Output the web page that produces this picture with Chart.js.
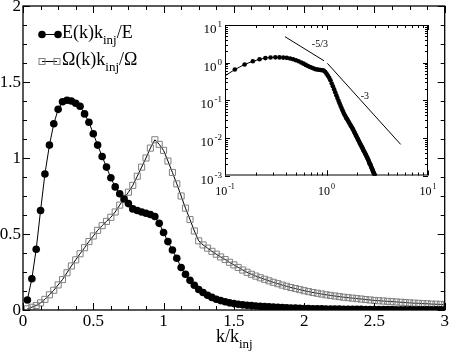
<!DOCTYPE html>
<html>
<head>
<meta charset="utf-8">
<script src="https://cdn.jsdelivr.net/npm/chart.js@4.4.1/dist/chart.umd.min.js"></script>
<style>
  html, body { margin: 0; padding: 0; background: #fff; }
  #wrap { position: relative; width: 450px; height: 352px; }
  #main { position: absolute; left: 0; top: 0; }
  #inset { position: absolute; left: 180px; top: 15px; }
</style>
</head>
<body>
<div id="wrap">
  <canvas id="main" width="450" height="352"></canvas>
  <canvas id="inset" width="262" height="190"></canvas>
</div>
<script>
// k / k_inj
const kValues = [
  0.031, 0.063, 0.094, 0.125, 0.156, 0.188, 0.219, 0.25, 0.281, 0.313, 0.344, 0.375, 0.406, 0.438, 0.469, 0.5,
  0.531, 0.563, 0.594, 0.625, 0.656, 0.688, 0.719, 0.75, 0.781, 0.813, 0.844, 0.875, 0.906, 0.938, 0.969, 1.0,
  1.031, 1.063, 1.094, 1.125, 1.156, 1.188, 1.219, 1.25, 1.281, 1.313, 1.344, 1.375, 1.406, 1.438, 1.469, 1.5,
  1.531, 1.563, 1.594, 1.625, 1.656, 1.688, 1.719, 1.75, 1.781, 1.813, 1.844, 1.875, 1.906, 1.938, 1.969, 2.0,
  2.031, 2.063, 2.094, 2.125, 2.156, 2.188, 2.219, 2.25, 2.281, 2.313, 2.344, 2.375, 2.406, 2.438, 2.469, 2.5,
  2.531, 2.563, 2.594, 2.625, 2.656, 2.688, 2.719, 2.75, 2.781, 2.813, 2.844, 2.875, 2.906, 2.938, 2.969, 3.0
];

// E(k) k_inj / E
const energySpectrum = [
  0.066, 0.206, 0.40, 0.655, 0.895, 1.085, 1.225, 1.32, 1.37, 1.38, 1.375, 1.36, 1.34, 1.29, 1.235, 1.16,
  1.085, 1.01, 0.94, 0.87, 0.81, 0.765, 0.73, 0.70, 0.665, 0.655, 0.645, 0.637, 0.628, 0.615, 0.57, 0.51,
  0.45, 0.395, 0.34, 0.28, 0.235, 0.195, 0.163, 0.135, 0.115, 0.097, 0.083, 0.071, 0.062, 0.054, 0.047, 0.042,
  0.038, 0.034, 0.0317, 0.0289, 0.0265, 0.0242, 0.0222, 0.0204, 0.0188, 0.0173, 0.016, 0.0145, 0.0132, 0.0121, 0.0111, 0.0102,
  0.0094, 0.0086, 0.008, 0.0073, 0.0068, 0.0063, 0.0059, 0.0055, 0.0051, 0.0047, 0.0044, 0.0041, 0.0038, 0.0036, 0.0033, 0.0031,
  0.0029, 0.0027, 0.0025, 0.0023, 0.0021, 0.002, 0.0019, 0.0017, 0.0016, 0.0015, 0.0014, 0.0013, 0.0012, 0.00113, 0.00106, 0.001
];

// Omega(k) k_inj / Omega
const enstrophySpectrum = [
  0.008, 0.018, 0.03, 0.047, 0.07, 0.1, 0.13, 0.165, 0.2, 0.245, 0.29, 0.33, 0.37, 0.41, 0.45, 0.487,
  0.524, 0.555, 0.583, 0.61, 0.645, 0.69, 0.735, 0.775, 0.82, 0.88, 0.94, 1.0, 1.065, 1.12, 1.09, 1.05,
  0.98, 0.905, 0.83, 0.75, 0.67, 0.595, 0.52, 0.455, 0.428, 0.407, 0.386, 0.367, 0.349, 0.332, 0.314, 0.297,
  0.28, 0.263, 0.248, 0.235, 0.223, 0.212, 0.202, 0.192, 0.182, 0.173, 0.164, 0.156, 0.148, 0.141, 0.134, 0.127,
  0.121, 0.115, 0.11, 0.105, 0.1, 0.096, 0.092, 0.088, 0.084, 0.081, 0.078, 0.075, 0.072, 0.069, 0.066, 0.063,
  0.061, 0.059, 0.057, 0.055, 0.053, 0.051, 0.049, 0.047, 0.045, 0.044, 0.042, 0.041, 0.039, 0.038, 0.037, 0.035
];

const xTicks = [0, 0.5, 1, 1.5, 2, 2.5, 3];
const yTicks = [0, 0.5, 1, 1.5, 2];
const xTickLabels = ['0', '0.5', '1', '1.5', '2', '2.5', '3'];
const yTickLabels = ['0', '0.5', '1', '1.5', '2'];

// inset: log-log, decades as exponents
const insetXDecades = [-1, 0, 1];
const insetYDecades = [1, 0, -1, -2, -3];

// reference power laws in the inset
const slope53K = [0.39, 0.945];
const slope53E = [4.89, 1.12];
const slope3K = [1.02, 5.38];
const slope3E = [0.958, 0.0067];

const SERIF = '"Liberation Serif", "Times New Roman", serif';

function pairs(xs, ys) {
  return xs.map((x, i) => ({ x: x, y: ys[i] }));
}

function textWithSub(ctx, parts, x, y) {
  // parts: [text, isSub]
  let cx = x;
  parts.forEach(([t, sub]) => {
    ctx.font = (sub ? 13 : 18) + 'px ' + SERIF;
    ctx.fillText(t, cx, sub ? y + 6 : y);
    cx += ctx.measureText(t).width;
  });
}

const mainFrame = {
  id: 'mainFrame',
  afterDraw(chart) {
    const { ctx, chartArea: a, scales: { x, y } } = chart;
    ctx.save();
    ctx.strokeStyle = '#000';
    ctx.fillStyle = '#000';
    ctx.lineWidth = 1.3;
    ctx.strokeRect(a.left, a.top, a.right - a.left, a.bottom - a.top);

    ctx.lineWidth = 1;
    ctx.beginPath();
    for (let v = 0; v <= 3.0001; v += 0.125) {
      const px = Math.round(x.getPixelForValue(v)) + 0.5;
      const len = Math.abs(v * 2 - Math.round(v * 2)) < 1e-6 ? 7 : 4;
      ctx.moveTo(px, a.bottom); ctx.lineTo(px, a.bottom - len);
      ctx.moveTo(px, a.top); ctx.lineTo(px, a.top + len);
    }
    for (let v = 0; v <= 2.0001; v += 0.125) {
      const py = Math.round(y.getPixelForValue(v)) + 0.5;
      const len = Math.abs(v * 2 - Math.round(v * 2)) < 1e-6 ? 7 : 4;
      ctx.moveTo(a.left, py); ctx.lineTo(a.left + len, py);
      ctx.moveTo(a.right, py); ctx.lineTo(a.right - len, py);
    }
    ctx.stroke();

    ctx.font = '17px ' + SERIF;
    ctx.textAlign = 'center';
    ctx.textBaseline = 'top';
    xTicks.forEach((v, i) => ctx.fillText(xTickLabels[i], x.getPixelForValue(v), a.bottom + 3));
    ctx.textAlign = 'right';
    ctx.textBaseline = 'middle';
    yTicks.forEach((v, i) => ctx.fillText(yTickLabels[i], a.left - 2, y.getPixelForValue(v) + 1));

    // axis title k/k_inj
    ctx.textAlign = 'left';
    ctx.textBaseline = 'alphabetic';
    textWithSub(ctx, [['k/k', false], ['inj', true]], 216, 342);

    // legend
    ctx.lineWidth = 1;
    ctx.beginPath();
    ctx.moveTo(42, 34.5); ctx.lineTo(58, 34.5);
    ctx.moveTo(42, 61.5); ctx.lineTo(57, 61.5);
    ctx.stroke();
    [42, 58].forEach(cx => {
      ctx.beginPath(); ctx.arc(cx, 34.5, 3.8, 0, Math.PI * 2); ctx.fill();
    });
    ctx.strokeStyle = '#808080';
    [42, 57].forEach(cx => ctx.strokeRect(cx - 3, 58.5, 6, 6));
    textWithSub(ctx, [['E(k)k', false], ['inj', true], ['/E', false]], 62, 38);
    textWithSub(ctx, [['\u03A9(k)k', false], ['inj', true], ['/\u03A9', false]], 62, 65);
    ctx.restore();
  }
};

new Chart(document.getElementById('main'), {
  type: 'scatter',
  data: {
    datasets: [
      {
        label: 'E(k)kinj/E',
        data: pairs(kValues, energySpectrum),
        showLine: true,
        borderColor: '#000',
        borderWidth: 1,
        pointStyle: 'circle',
        pointRadius: 3.8,
        pointBackgroundColor: '#000',
        pointBorderWidth: 0,
        order: 0,
      },
      {
        label: '\u03A9(k)kinj/\u03A9',
        data: pairs(kValues, enstrophySpectrum),
        showLine: true,
        borderColor: '#000',
        borderWidth: 1,
        pointStyle: 'rect',
        pointRadius: 4.3,
        pointBackgroundColor: 'rgba(0,0,0,0)',
        pointBorderColor: '#808080',
        pointBorderWidth: 1,
        order: 1,
      },
    ],
  },
  options: {
    responsive: false,
    animation: false,
    events: [],
    layout: { padding: { left: 23, right: 4, top: 6, bottom: 42 } },
    plugins: { legend: { display: false }, tooltip: { enabled: false } },
    scales: {
      x: { type: 'linear', display: false, min: 0, max: 3 },
      y: { type: 'linear', display: false, min: 0, max: 2 },
    },
  },
  plugins: [mainFrame],
});

function drawPower(ctx, exp, x, y, align, baseSize, supSize) {
  ctx.font = baseSize + 'px ' + SERIF;
  const bw = ctx.measureText('10').width;
  ctx.font = supSize + 'px ' + SERIF;
  const sw = ctx.measureText(String(exp)).width;
  const total = bw + sw + 1;
  const left = align === 'right' ? x - total : x - total / 2;
  ctx.textAlign = 'left';
  ctx.textBaseline = 'alphabetic';
  ctx.font = baseSize + 'px ' + SERIF;
  ctx.fillText('10', left, y);
  ctx.font = supSize + 'px ' + SERIF;
  ctx.fillText(String(exp), left + bw + 1, y - baseSize * 0.45);
}

const insetFrame = {
  id: 'insetFrame',
  beforeDatasetsDraw(chart) {
    const { ctx, chartArea: a } = chart;
    ctx.save();
    ctx.fillStyle = '#fff';
    ctx.fillRect(a.left, a.top, a.right - a.left, a.bottom - a.top);
    ctx.restore();
  },
  afterDraw(chart) {
    const { ctx, chartArea: a, scales: { x, y } } = chart;
    ctx.save();
    ctx.strokeStyle = '#000';
    ctx.fillStyle = '#000';
    ctx.lineWidth = 1;
    ctx.strokeRect(a.left + 0.5, a.top + 0.5, a.right - a.left - 1, a.bottom - a.top - 1);
    ctx.beginPath();
    for (let d = -1; d < 1; d++) {
      for (let m = 1; m <= 10; m++) {
        const px = Math.round(x.getPixelForValue(m * Math.pow(10, d))) + 0.5;
        const len = (m === 1 || m === 10) ? 5 : 3;
        ctx.moveTo(px, a.bottom); ctx.lineTo(px, a.bottom - len);
        ctx.moveTo(px, a.top); ctx.lineTo(px, a.top + len);
      }
    }
    for (let d = -3; d < 1; d++) {
      for (let m = 1; m <= 10; m++) {
        const py = Math.round(y.getPixelForValue(m * Math.pow(10, d))) + 0.5;
        const len = (m === 1 || m === 10) ? 5 : 3;
        ctx.moveTo(a.left, py); ctx.lineTo(a.left + len, py);
        ctx.moveTo(a.right, py); ctx.lineTo(a.right - len, py);
      }
    }
    ctx.stroke();

    insetYDecades.forEach(e => drawPower(ctx, e, a.left - 3, y.getPixelForValue(Math.pow(10, e)) + 8, 'right', 13, 9));
    insetXDecades.forEach(e => drawPower(ctx, e, x.getPixelForValue(Math.pow(10, e)), a.bottom + 19, 'center', 12, 8));

    ctx.font = '10px ' + SERIF;
    ctx.textAlign = 'center';
    ctx.textBaseline = 'middle';
    ctx.fillText('-5/3', x.getPixelForValue(0.86), y.getPixelForValue(3.1));
    ctx.fillText('-3', x.getPixelForValue(2.39), y.getPixelForValue(0.13));
    ctx.restore();
  }
};

new Chart(document.getElementById('inset'), {
  type: 'scatter',
  data: {
    datasets: [
      {
        data: pairs(kValues, energySpectrum),
        showLine: true,
        borderColor: '#000',
        borderWidth: 1,
        pointRadius: 2.3,
        pointBackgroundColor: '#000',
        pointBorderWidth: 0,
      },
      {
        data: pairs(slope53K, slope53E),
        showLine: true,
        borderColor: '#000',
        borderWidth: 1,
        pointRadius: 0,
      },
      {
        data: pairs(slope3K, slope3E),
        showLine: true,
        borderColor: '#000',
        borderWidth: 1,
        pointRadius: 0,
      },
    ],
  },
  options: {
    responsive: false,
    animation: false,
    events: [],
    layout: { padding: { left: 45, right: 14, top: 10, bottom: 29.5 } },
    plugins: { legend: { display: false }, tooltip: { enabled: false } },
    scales: {
      x: { type: 'logarithmic', display: false, min: 0.1, max: 10 },
      y: { type: 'logarithmic', display: false, min: 0.001, max: 10 },
    },
  },
  plugins: [insetFrame],
});
</script>
</body>
</html>
